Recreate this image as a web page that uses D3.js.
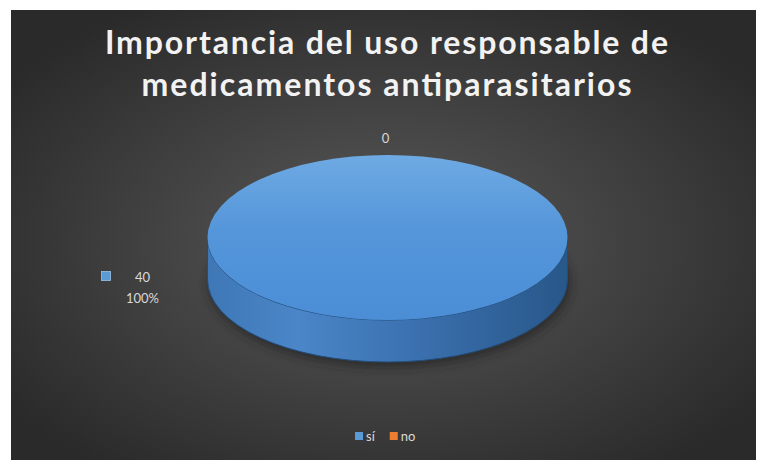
<!DOCTYPE html>
<html>
<head>
<meta charset="utf-8">
<script src="https://cdn.jsdelivr.net/npm/d3@7"></script>
<style>
  body { margin: 0; background: #ffffff; }
  svg { display: block; }
</style>
</head>
<body>
<script>
// chart data
const title = ['Importancia del uso responsable de', 'medicamentos antiparasitarios']
const categories = ['sí', 'no']
const values = [40, 0]
const colors = ['#5b9bd5', '#ed7d31']

let width = 757
let height = 460
// dark chart area inside the white border
let area = { x: 11, y: 10, w: 745, h: 450 }

let svg = d3
  .select('body')
  .append('svg')
  .attr('width', width)
  .attr('height', height)

let defs = svg.append('defs')

// background radial gradient
let bg = defs
  .append('radialGradient')
  .attr('id', 'bg')
  .attr('cx', '50%')
  .attr('cy', '52%')
  .attr('r', '62%')
bg.append('stop').attr('offset', '0%').attr('stop-color', '#5a5a5a')
bg.append('stop').attr('offset', '100%').attr('stop-color', '#2a2a2a')

svg
  .append('rect')
  .attr('x', area.x)
  .attr('y', area.y)
  .attr('width', area.w)
  .attr('height', area.h)
  .attr('fill', 'url(#bg)')

// top face gradient
let topGrad = defs
  .append('linearGradient')
  .attr('id', 'topGrad')
  .attr('x1', '0%').attr('y1', '0%')
  .attr('x2', '0%').attr('y2', '100%')
topGrad.append('stop').attr('offset', '0%').attr('stop-color', '#6eaae3')
topGrad.append('stop').attr('offset', '45%').attr('stop-color', '#5596da')
topGrad.append('stop').attr('offset', '100%').attr('stop-color', '#4b8ed6')

// side gradient
let sideGrad = defs
  .append('linearGradient')
  .attr('id', 'sideGrad')
  .attr('x1', '0%').attr('y1', '0%')
  .attr('x2', '100%').attr('y2', '0%')
sideGrad.append('stop').attr('offset', '0%').attr('stop-color', '#3f77b6')
sideGrad.append('stop').attr('offset', '25%').attr('stop-color', '#4a86c8')
sideGrad.append('stop').attr('offset', '60%').attr('stop-color', '#3a6fad')
sideGrad.append('stop').attr('offset', '100%').attr('stop-color', '#285789')

let blur = defs.append('filter').attr('id', 'blur')
  .attr('x', '-20%').attr('y', '-20%').attr('width', '140%').attr('height', '140%')
blur.append('feGaussianBlur').attr('stdDeviation', 5)

// title
svg
  .append('g')
  .selectAll('text')
  .data(title)
  .join('text')
  .attr('x', 386.5)
  .attr('y', (d, i) => 54 + i * 42)
  .attr('text-anchor', 'middle')
  .attr('font-family', 'Lato, "Open Sans", sans-serif')
  .attr('font-weight', 700)
  .attr('font-size', 32)
  .attr('fill', '#f2f2f2')
  .attr('textLength', (d, i) => (i === 0 ? 563 : 490))
  .attr('lengthAdjust', 'spacing')
  .text(d => d)

// 3D pie geometry
let cx = 387.5
let cy = 237.5
let rx = 180
let ry = 82.5
let depth = 42

let arcs = d3.pie().sort(null).value(d => d)(values)

function pt (a, dy) {
  return [cx + rx * Math.sin(a), cy - ry * Math.cos(a) + (dy || 0)]
}

// shadow under the pie
svg
  .append('ellipse')
  .attr('cx', cx + 2)
  .attr('cy', cy + depth + 4)
  .attr('rx', rx + 2)
  .attr('ry', ry + 2)
  .attr('fill', '#1a1a1a')
  .attr('opacity', 0.55)
  .attr('filter', 'url(#blur)')

// side walls (front half only)
arcs.forEach(d => {
  let a0 = Math.max(d.startAngle, Math.PI / 2)
  let a1 = Math.min(d.endAngle, 3 * Math.PI / 2)
  if (a1 <= a0) return
  let p0 = pt(a0)
  let p1 = pt(a1)
  let sweepLarge = a1 - a0 > Math.PI ? 1 : 0
  let path =
    `M${p0[0]},${p0[1]}` +
    `A${rx},${ry} 0 ${sweepLarge} 1 ${p1[0]},${p1[1]}` +
    `L${p1[0]},${p1[1] + depth}` +
    `A${rx},${ry} 0 ${sweepLarge} 0 ${p0[0]},${p0[1] + depth}Z`
  svg
    .append('path')
    .attr('d', path)
    .attr('fill', d.index === 0 ? 'url(#sideGrad)' : d3.color(colors[d.index]).darker(0.8))
    .attr('stroke', '#224d7d')
    .attr('stroke-width', 1)
})

// top face
let arcGen = d3.arc().innerRadius(0).outerRadius(rx)
svg
  .append('g')
  .attr('transform', `translate(${cx},${cy}) scale(1,${ry / rx})`)
  .selectAll('path')
  .data(arcs.filter(d => d.endAngle > d.startAngle))
  .join('path')
  .attr('d', arcGen)
  .attr('fill', d => (d.index === 0 ? 'url(#topGrad)' : colors[d.index]))

// data labels
let labelFont = 'Lato, "Open Sans", sans-serif'
let total = d3.sum(values)

// "no" slice: zero-size, label sits above the pie at its angle
let noArc = arcs[1]
let pNo = pt(noArc.startAngle)
svg
  .append('text')
  .attr('x', pNo[0] - 2)
  .attr('y', pNo[1] - 12)
  .attr('text-anchor', 'middle')
  .attr('font-family', labelFont)
  .attr('font-size', 13)
  .attr('fill', '#d9d9d9')
  .text(values[1])

// "sí" slice: label to the left with legend key
let lx = cx - rx - 65
let ly = cy + 44
let siLabel = svg.append('g')
siLabel
  .append('rect')
  .attr('x', lx - 41)
  .attr('y', ly - 10)
  .attr('width', 9)
  .attr('height', 9)
  .attr('fill', colors[0])
  .attr('stroke', '#9cc3e8')
  .attr('stroke-width', 0.8)
siLabel
  .append('text')
  .attr('x', lx)
  .attr('y', ly)
  .attr('text-anchor', 'middle')
  .attr('font-family', labelFont)
  .attr('font-size', 13)
  .attr('fill', '#d9d9d9')
  .text(values[0])
siLabel
  .append('text')
  .attr('x', lx)
  .attr('y', ly + 21)
  .attr('text-anchor', 'middle')
  .attr('font-family', labelFont)
  .attr('font-size', 13)
  .attr('fill', '#d9d9d9')
  .text(d3.format('.0%')(values[0] / total))

// legend
let legend = svg.append('g').attr('transform', 'translate(355,436)')
let lxPos = 0
categories.forEach((c, i) => {
  let g = legend.append('g').attr('transform', `translate(${lxPos},0)`)
  g.append('rect')
    .attr('x', 0)
    .attr('y', -4)
    .attr('width', 8)
    .attr('height', 8)
    .attr('fill', colors[i])
  let t = g
    .append('text')
    .attr('x', 11)
    .attr('y', 4.5)
    .attr('font-family', labelFont)
    .attr('font-size', 13)
    .attr('fill', '#d9d9d9')
    .text(c)
  lxPos += 11 + t.node().getComputedTextLength() + 15
})
</script>
</body>
</html>
